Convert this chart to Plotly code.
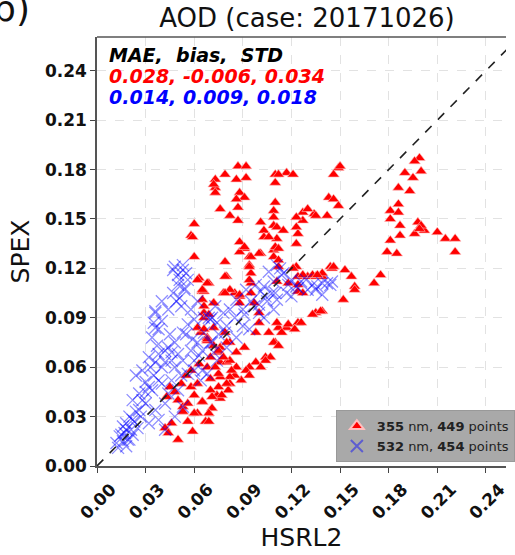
import plotly.graph_objects as go

# ---- data (HSRL2, SPEX) ----
pts_355 = [
    (0.087,0.182),(0.092,0.182),(0.092,0.175),(0.079,0.177),(0.086,0.174),(0.073,0.174),(0.073,0.169),(0.073,0.166),(0.072,0.171),
    (0.110,0.177),(0.117,0.178),(0.121,0.177),(0.110,0.172),(0.112,0.177),
    (0.088,0.166),(0.091,0.163),(0.086,0.162),(0.076,0.156),(0.082,0.152),(0.087,0.157),(0.087,0.149),
    (0.110,0.160),(0.109,0.155),(0.109,0.151),(0.109,0.146),
    (0.060,0.147),(0.058,0.140),(0.060,0.127),(0.059,0.139),
    (0.101,0.148),(0.103,0.143),(0.103,0.139),(0.111,0.145),(0.115,0.143),(0.111,0.138),(0.106,0.139),
    (0.127,0.154),(0.134,0.153),(0.127,0.149),(0.123,0.145),(0.124,0.141),(0.123,0.135),(0.130,0.156),(0.123,0.151),
    (0.088,0.136),(0.091,0.132),(0.101,0.129),(0.094,0.127),(0.109,0.131),(0.109,0.127),(0.110,0.133),
    (0.079,0.124),(0.094,0.122),(0.095,0.117),(0.095,0.111),(0.094,0.121),(0.100,0.129),(0.095,0.127),(0.088,0.130),
    (0.063,0.114),(0.069,0.111),(0.080,0.115),(0.078,0.105),(0.062,0.113),(0.068,0.111),(0.065,0.106),(0.066,0.106),(0.079,0.115),
    (0.124,0.115),(0.130,0.115),(0.135,0.115),(0.139,0.115),(0.127,0.116),(0.133,0.116),(0.139,0.117),(0.144,0.121),(0.123,0.121),(0.121,0.120),
    (0.112,0.132),(0.112,0.125),(0.112,0.121),
    (0.199,0.187),(0.196,0.185),(0.200,0.179),(0.195,0.175),(0.190,0.178),(0.186,0.169),(0.193,0.167),
    (0.149,0.181),(0.146,0.177),(0.150,0.182),
    (0.143,0.163),(0.146,0.162),(0.149,0.158),(0.142,0.152),(0.135,0.152),
    (0.181,0.155),(0.186,0.159),(0.186,0.154),(0.181,0.150),(0.187,0.146),(0.187,0.140),
    (0.198,0.148),(0.202,0.143),(0.196,0.141),(0.210,0.142),(0.215,0.138),(0.221,0.138),(0.221,0.130),(0.200,0.146),(0.199,0.144),
    (0.181,0.137),(0.179,0.130),(0.185,0.129),
    (0.145,0.120),(0.153,0.119),(0.157,0.115),(0.159,0.109),(0.175,0.116),(0.171,0.111),(0.136,0.116),(0.152,0.101),(0.159,0.107),(0.146,0.121),
    (0.091,0.133),(0.088,0.103),(0.085,0.105),(0.094,0.113),
    (0.124,0.106),(0.100,0.087),(0.106,0.081),(0.112,0.084),(0.117,0.084),(0.124,0.087),(0.135,0.093),(0.139,0.094),(0.110,0.075),
    (0.104,0.066),(0.098,0.063),(0.094,0.060),(0.092,0.058),(0.089,0.052),(0.085,0.055),
    (0.076,0.063),(0.075,0.069),(0.072,0.073),(0.068,0.076),(0.064,0.081),(0.062,0.084),(0.066,0.093),(0.072,0.099),(0.082,0.107),
    (0.065,0.107),(0.079,0.105),(0.095,0.105),(0.088,0.104),(0.097,0.099),(0.088,0.099),(0.111,0.112),(0.124,0.110),(0.127,0.105),(0.118,0.111),
    (0.138,0.094),(0.133,0.092),(0.126,0.087),(0.118,0.086),(0.122,0.083),(0.114,0.081),(0.111,0.087),(0.100,0.093),(0.098,0.081),
    (0.109,0.075),(0.112,0.073),(0.091,0.072),(0.086,0.069),(0.082,0.075),(0.079,0.081),(0.072,0.084),(0.066,0.090),(0.068,0.078),(0.076,0.072),
    (0.107,0.066),(0.104,0.064),(0.101,0.060),(0.094,0.055),(0.086,0.060),(0.080,0.063),(0.082,0.054),(0.076,0.054),(0.082,0.050),
    (0.081,0.046),(0.075,0.048),(0.074,0.043),(0.076,0.041),(0.070,0.046),(0.071,0.035),(0.069,0.032),(0.065,0.039),(0.067,0.027),(0.062,0.032),
    (0.065,0.101),(0.066,0.097),(0.072,0.099),(0.069,0.092),(0.066,0.083),(0.068,0.077),(0.075,0.070),(0.080,0.075),(0.082,0.064),
    (0.075,0.056),(0.080,0.050),(0.083,0.058),
    (0.043,0.042),(0.045,0.048),(0.053,0.036),(0.060,0.032),(0.056,0.027),(0.046,0.026),(0.042,0.023),(0.050,0.016),(0.059,0.021),
    (0.069,0.027),(0.065,0.039),(0.071,0.042),(0.077,0.043),(0.060,0.043),(0.044,0.020),(0.053,0.033),
    (0.048,0.045),(0.052,0.050),(0.055,0.055),(0.058,0.048),(0.050,0.040),(0.056,0.038),(0.062,0.050),(0.058,0.058),(0.063,0.062),
    (0.068,0.060),(0.070,0.066),(0.073,0.060),(0.078,0.066),(0.070,0.053),
]

pts_532 = [
    (0.048,0.121),(0.053,0.119),(0.056,0.113),(0.050,0.110),(0.047,0.105),(0.054,0.107),(0.051,0.102),(0.053,0.122),(0.047,0.119),
    (0.051,0.113),(0.054,0.108),(0.050,0.116),(0.055,0.117),(0.049,0.100),(0.052,0.097),
    (0.036,0.094),(0.035,0.087),(0.038,0.083),(0.034,0.078),(0.037,0.073),(0.036,0.084),(0.036,0.093),
    (0.053,0.081),(0.056,0.086),(0.060,0.089),(0.066,0.090),(0.071,0.090),(0.074,0.087),(0.059,0.077),(0.048,0.075),(0.042,0.070),
    (0.032,0.066),(0.036,0.063),(0.042,0.063),(0.048,0.060),(0.046,0.069),(0.053,0.064),(0.060,0.064),(0.056,0.056),(0.065,0.058),
    (0.071,0.075),(0.072,0.069),(0.066,0.081),(0.079,0.081),
    (0.028,0.058),(0.024,0.055),(0.030,0.051),(0.034,0.046),(0.040,0.050),(0.044,0.044),(0.050,0.046),(0.026,0.044),(0.022,0.040),
    (0.030,0.038),(0.026,0.034),(0.036,0.034),(0.042,0.038),(0.022,0.028),(0.018,0.022),(0.015,0.019),(0.020,0.016),(0.025,0.023),
    (0.032,0.026),(0.038,0.028),(0.018,0.012),(0.016,0.015),(0.042,0.022),(0.048,0.030),(0.053,0.036),
    (0.070,0.089),(0.073,0.097),(0.082,0.095),(0.086,0.101),(0.092,0.107),(0.103,0.109),(0.111,0.101),(0.117,0.105),(0.123,0.109),
    (0.130,0.107),(0.136,0.109),(0.142,0.111),(0.144,0.110),(0.109,0.095),(0.103,0.090),(0.094,0.083),(0.086,0.078),(0.080,0.072),
    (0.074,0.064),(0.068,0.056),(0.064,0.052),
    (0.069,0.090),(0.078,0.093),(0.109,0.112),(0.115,0.117),(0.118,0.110),(0.124,0.108),(0.133,0.110),(0.139,0.111),(0.145,0.112),
    (0.097,0.097),(0.091,0.092),(0.104,0.103),(0.100,0.093),(0.111,0.122),(0.114,0.116),(0.135,0.107),(0.139,0.104),
    (0.012,0.014),(0.014,0.018),(0.017,0.020),(0.019,0.016),(0.021,0.022),(0.016,0.024),(0.023,0.027),(0.020,0.030),(0.024,0.033),
    (0.027,0.030),(0.018,0.026),(0.013,0.011),(0.022,0.019),
    (0.075,0.080),(0.080,0.085),(0.085,0.090),(0.090,0.095),(0.095,0.100),(0.100,0.098),(0.105,0.100),(0.110,0.105),(0.098,0.110),
    (0.090,0.085),(0.070,0.075),(0.065,0.070),
    (0.038,0.068),(0.044,0.072),(0.040,0.060),(0.046,0.064),(0.050,0.068),(0.058,0.070),(0.062,0.075),(0.055,0.080),(0.045,0.080),
    (0.040,0.088),(0.044,0.095),(0.040,0.100),(0.058,0.095),(0.062,0.100),
    (0.030,0.045),(0.028,0.040),(0.032,0.048),(0.035,0.055),(0.038,0.052),(0.033,0.060),(0.046,0.052),(0.052,0.055),(0.060,0.058),
    (0.063,0.067),
    (0.113,0.120),(0.120,0.113),(0.126,0.112),(0.129,0.113),(0.106,0.118),(0.108,0.105),(0.120,0.103),(0.101,0.106),
]

tick_vals = [0.00, 0.03, 0.06, 0.09, 0.12, 0.15, 0.18, 0.21, 0.24]
tick_text = ["0.00", "0.03", "0.06", "0.09", "0.12", "0.15", "0.18", "0.21", "0.24"]
one_to_one = [0.0, 0.27]

title_text = "AOD (case: 20171026)"
stats_header = "MAE,  bias,  STD"
stats_355 = "0.028, -0.006, 0.034"
stats_532 = "0.014, 0.009, 0.018"
name_355 = "<b>355</b> nm, <b>449</b> points"
name_532 = "<b>532</b> nm, <b>454</b> points"

FONT = "DejaVu Sans"

x355 = [p[0] for p in pts_355]; y355 = [p[1] for p in pts_355]
x532 = [p[0] for p in pts_532]; y532 = [p[1] for p in pts_532]

fig = go.Figure()
fig.add_trace(go.Scatter(
    x=x355, y=y355, mode="markers", name=name_355,
    marker=dict(symbol="triangle-up", size=10, color="#ff0000",
                line=dict(width=0.6, color="rgba(255,190,190,1)")),
))
fig.add_trace(go.Scatter(
    x=x532, y=y532, mode="markers", name=name_532,
    marker=dict(symbol="x-thin", size=12, color="rgba(0,0,255,0.45)",
                line=dict(width=1.3, color="rgba(0,0,255,0.45)")),
))
fig.add_trace(go.Scatter(
    x=one_to_one, y=one_to_one, mode="lines", showlegend=False,
    line=dict(color="#222222", width=1.6, dash="dash"), hoverinfo="skip",
))

axis_common = dict(
    tickvals=tick_vals, ticktext=tick_text,
    tickfont=dict(family=FONT, size=17, color="#111", weight="bold"),
    ticks="outside", ticklen=5, tickwidth=1.2, tickcolor="#444",
    showline=True, linecolor="#555", linewidth=1.5,
    showgrid=True, gridcolor="#e2e2e2", griddash="dash", gridwidth=1,
    zeroline=False, ticklabeloverflow="allow",
)

fig.update_layout(
    width=515, height=555,
    margin=dict(l=97, r=0, t=37, b=89),
    paper_bgcolor="white", plot_bgcolor="white",
    font=dict(family=FONT, color="#111"),
    title=dict(text=title_text, x=307 / 515, xanchor="center",
               y=1 - 18 / 555, yanchor="middle",
               font=dict(family=FONT, size=26, color="#111")),
    xaxis=dict(range=[0, 0.2524], tickangle=-45, ticklabelshift=14,
               title=dict(text="HSRL2", font=dict(family=FONT, size=25, color="#111"), standoff=6),
               **axis_common),
    yaxis=dict(range=[0, 0.2605],
               title=dict(text="SPEX", font=dict(family=FONT, size=25, color="#111"), standoff=8),
               **axis_common),
    legend=dict(x=0.584, y=0.009, xanchor="left", yanchor="bottom",
                bgcolor="#a9a9a9", bordercolor="#999999", borderwidth=1,
                font=dict(family=FONT, size=13, color="#222"),
                tracegroupgap=0, itemsizing="constant"),
    showlegend=True,
)

# top border of the axes box
fig.add_shape(type="line", xref="paper", yref="paper", x0=0, x1=1, y0=1, y1=1,
              line=dict(color="#555", width=1.5))

stat_font = dict(family=FONT, size=19, weight="bold", style="italic")
for txt, col, ypx in [(stats_header, "#000000", 54), (stats_355, "#ff0000", 75), (stats_532, "#0000ff", 96)]:
    fig.add_annotation(text=txt, xref="paper", yref="paper",
                       x=(107 - 97) / 418, y=(466 - ypx) / 429, height=19,
                       xanchor="left", yanchor="middle", showarrow=False,
                       font=dict(color=col, **stat_font))

# partial panel label at the top-left corner (cut off, as in the reference)
fig.add_annotation(text="(b)", xref="paper", yref="paper",
                   x=(31 - 97) / 418, y=(466 - 9) / 429,
                   xanchor="right", yanchor="middle", showarrow=False,
                   font=dict(family=FONT, size=36, color="#111"))

fig.write_html("out.html")
